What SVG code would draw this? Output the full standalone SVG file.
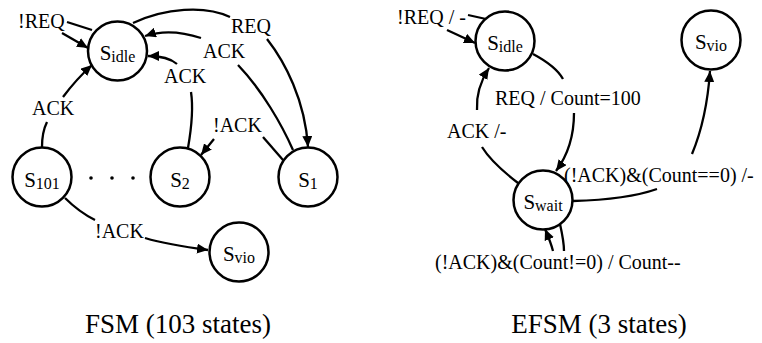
<svg xmlns="http://www.w3.org/2000/svg" width="762" height="343" viewBox="0 0 762 343" font-family="'Liberation Serif', 'DejaVu Serif', serif">
  <style>
    .node circle { fill: #ffffff; stroke: #000000; stroke-width: 2.5; }
    .name { font-size: 21px; fill: #000000; text-anchor: middle; }
    .sub { font-size: 16px; }
    .edge { fill: none; stroke: #000000; stroke-width: 2.3; }
    .arrow { marker-end: url(#head); }
    .label { font-size: 20px; fill: #000000; }
    .caption { font-size: 27px; fill: #000000; text-anchor: middle; }
  </style>
  <defs>
    <marker id="head" markerUnits="userSpaceOnUse" markerWidth="12" markerHeight="10" refX="11" refY="5" orient="auto">
      <path d="M0,0 L11,5 L0,10 z" fill="#000000"/>
    </marker>
  </defs>

  <rect width="762" height="343" fill="#ffffff"/>

  <!-- connectors: each label interrupts its own line -->
  <g id="connectors">
    <!-- FSM -->
    <path class="edge" d="M92,30 L67,22"/>
    <path class="edge arrow" d="M62,33 L88,48"/>
    <path class="edge" d="M133,23 C 165,8 205,5 230,17"/>
    <path class="edge arrow" d="M267,39 C 285,62 305,100 308,147"/>
    <path class="edge" d="M293,150 C 282,125 262,90 238,65"/>
    <path class="edge arrow" d="M201,38 C 180,31 160,31 145,36"/>
    <path class="edge" d="M188,148 C 192,125 193,105 191,92"/>
    <path class="edge arrow" d="M177,64 C 170,58 160,56 148,56"/>
    <path class="edge" d="M283,160 C 276,152 269,144 263,137"/>
    <path class="edge arrow" d="M214,139 L201,155"/>
    <path class="edge" d="M42,147 C 42,136 44,128 47,122"/>
    <path class="edge arrow" d="M63,97 C 72,85 82,74 92,65"/>
    <path class="edge" d="M65,198 C 75,208 85,215 95,220"/>
    <path class="edge arrow" d="M145,238 C 165,244 185,247 208,250"/>

    <!-- EFSM -->
    <path class="edge" d="M486,19 L468,15"/>
    <path class="edge arrow" d="M447,30 L475,43"/>
    <path class="edge" d="M533,54 C 548,62 558,70 563,79"/>
    <path class="edge arrow" d="M574,113 C 574,135 568,155 556,171"/>
    <path class="edge" d="M518,183 C 505,173 490,160 482,147"/>
    <path class="edge arrow" d="M477,110 C 476,95 480,82 489,68"/>
    <path class="edge" d="M573,201 C 610,200 640,195 657,189"/>
    <path class="edge arrow" d="M692,154 C 702,130 708,100 710,71"/>
    <path class="edge" d="M560,224 C 562,233 564,242 564,251"/>
    <path class="edge arrow" d="M553,251 C 551,243 548,236 545,229"/>
  </g>

  <!-- FSM states -->
  <g id="fsm-idle" class="node">
    <circle cx="117.5" cy="51" r="29.5"/>
    <text class="name" x="117.5" y="60">S<tspan class="sub" dy="2">idle</tspan></text>
  </g>
  <g id="fsm-s101" class="node">
    <circle cx="42" cy="177" r="29.5"/>
    <text class="name" x="42" y="187">S<tspan class="sub" dy="1.5">101</tspan></text>
  </g>
  <g id="fsm-s2" class="node">
    <circle cx="180" cy="177" r="29.5"/>
    <text class="name" x="180" y="187">S<tspan class="sub" dy="1.5">2</tspan></text>
  </g>
  <g id="fsm-s1" class="node">
    <circle cx="308" cy="177" r="29.5"/>
    <text class="name" x="308" y="187">S<tspan class="sub" dy="1.5">1</tspan></text>
  </g>
  <g id="fsm-vio" class="node">
    <circle cx="239" cy="252" r="29.5"/>
    <text class="name" x="239" y="261">S<tspan class="sub" dy="2">vio</tspan></text>
  </g>
  <g id="fsm-ellipsis">
    <circle cx="91" cy="178" r="1.8" fill="#000000"/>
    <circle cx="112" cy="178" r="1.8" fill="#000000"/>
    <circle cx="133" cy="178" r="1.8" fill="#000000"/>
  </g>

  <!-- EFSM states -->
  <g id="efsm-idle" class="node">
    <circle cx="505" cy="41" r="29.5"/>
    <text class="name" x="505" y="50">S<tspan class="sub" dy="2">idle</tspan></text>
  </g>
  <g id="efsm-wait" class="node">
    <circle cx="543" cy="200" r="29.5"/>
    <text class="name" x="543" y="209">S<tspan class="sub" dy="2">wait</tspan></text>
  </g>
  <g id="efsm-vio" class="node">
    <circle cx="711" cy="40" r="29.5"/>
    <text class="name" x="711" y="49">S<tspan class="sub" dy="2">vio</tspan></text>
  </g>

  <!-- transition labels -->
  <g id="labels">
    <text class="label" x="18" y="28">!REQ</text>
    <text class="label" x="231" y="33">REQ</text>
    <text class="label" x="203" y="58">ACK</text>
    <text class="label" x="164" y="83">ACK</text>
    <text class="label" x="32" y="115">ACK</text>
    <text class="label" x="213" y="132">!ACK</text>
    <text class="label" x="95" y="238">!ACK</text>

    <text class="label" x="397" y="24">!REQ / -</text>
    <text class="label" x="495" y="105">REQ / Count=100</text>
    <text class="label" x="447" y="138">ACK /-</text>
    <text class="label" x="564" y="182">(!ACK)&amp;(Count==0) /-</text>
    <text class="label" x="435" y="269">(!ACK)&amp;(Count!=0) / Count--</text>
  </g>

  <!-- captions -->
  <text class="caption" x="178" y="333">FSM (103 states)</text>
  <text class="caption" x="599" y="333">EFSM (3 states)</text>
</svg>
